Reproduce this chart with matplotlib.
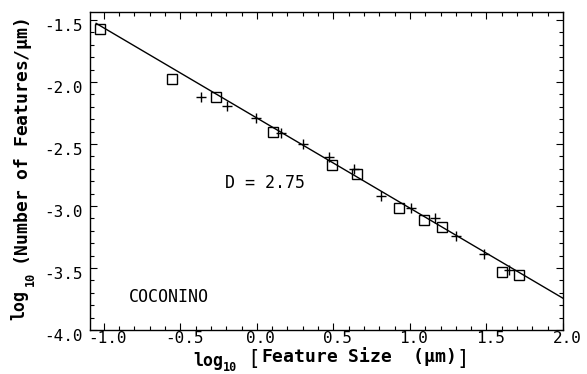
import numpy as np
import matplotlib.pyplot as plt
from matplotlib.ticker import MultipleLocator
from matplotlib.transforms import ScaledTranslation

# log10 feature size vs log10 number of features, two measurement sets
sq_x = [-1.026, -0.554, -0.270, 0.103, 0.494, 0.651, 0.928, 1.092, 1.211, 1.603, 1.714]
sq_y = [-1.573, -1.977, -2.118, -2.402, -2.673, -2.741, -3.012, -3.112, -3.167, -3.533, -3.559]

plus_x = [-0.368, -0.192, -0.007, 0.157, 0.299, 0.473, 0.634, 0.810, 1.004, 1.163, 1.301, 1.484, 1.649]
plus_y = [-2.120, -2.197, -2.286, -2.408, -2.503, -2.606, -2.700, -2.920, -3.012, -3.093, -3.240, -3.389, -3.519]

# fitted power law
fit_x = np.array([-1.05, 2.0])
fit_intercept = -2.290
fit_slope = -0.727

xticks = [-1.0, -0.5, 0.0, 0.5, 1.0, 1.5, 2.0]
yticks = [-4.0, -3.5, -3.0, -2.5, -2.0, -1.5]

plt.rcParams['font.family'] = 'DejaVu Sans Mono'
plt.rcParams['mathtext.fontset'] = 'custom'
plt.rcParams['mathtext.rm'] = 'DejaVu Sans Mono'
plt.rcParams['mathtext.it'] = 'DejaVu Sans Mono:bold'
plt.rcParams['mathtext.bf'] = 'DejaVu Sans Mono:bold'

W, H = 587, 374
fig = plt.figure(figsize=(W / 100, H / 100), dpi=100)
ax = fig.add_axes([90 / W, 1 - 330 / H, (563 - 90) / W, (330 - 12) / H])

ax.plot(fit_x, fit_intercept + fit_slope * fit_x, color='black', lw=1.0)
ax.plot(sq_x, sq_y, ls='none', marker='s', ms=6.5, mfc='none', mec='black', mew=1.0)
ax.plot(plus_x, plus_y, ls='none', marker='+', ms=7, mec='black', mew=1.0)

ax.text(0.05, -2.817, 'D = 2.75', ha='center', va='center', fontsize=12)
ax.text(-0.575, -3.736, 'COCONINO', ha='center', va='center', fontsize=12)

ax.set_xlim(-1.09, 2.0)
ax.set_ylim(-4.0, -1.435)
ax.xaxis.set_minor_locator(MultipleLocator(0.1))
ax.yaxis.set_minor_locator(MultipleLocator(0.1))
ax.set_xticks(xticks)
ax.set_xticklabels([f'{v:.1f}' for v in xticks])
ax.set_yticks(yticks)
ax.set_yticklabels([f'{v:.1f}' for v in yticks])
ax.tick_params(which='both', direction='in', top=True, right=True,
               labelsize=11.5, width=0.8)
ax.tick_params(which='major', length=5)
ax.tick_params(axis='x', which='major', pad=1)
ax.tick_params(axis='y', which='major', pad=5)
ax.tick_params(which='minor', length=3)
for s in ax.spines.values():
    s.set_linewidth(1.0)

# nudge tick labels right / down a little
dx = ScaledTranslation(4 / 100, 0, fig.dpi_scale_trans)
dy = ScaledTranslation(0, -5 / 100, fig.dpi_scale_trans)
for lab in ax.get_xticklabels():
    lab.set_transform(lab.get_transform() + dx)
for lab in ax.get_yticklabels():
    lab.set_transform(lab.get_transform() + dy)


def px(x, y):
    return x / W, 1 - y / H


# x axis label, built from pieces
fig.text(*px(193, 366), 'log', fontsize=12, fontweight='bold', va='baseline')
fig.text(*px(223, 371), '10', fontsize=8.5, fontweight='bold', va='baseline')
fig.text(*px(247, 365), '[', fontsize=15, va='baseline')
fig.text(*px(261, 362), r'Feature Size  ($\mu$m)', fontsize=13, fontweight='bold', va='baseline')
fig.text(*px(456, 365), ']', fontsize=15, va='baseline')

# y axis label
fig.text(*px(19, 305), 'log', fontsize=12, fontweight='bold', rotation=90,
         ha='center', va='center')
fig.text(*px(30, 279), '10', fontsize=8.5, fontweight='bold', rotation=90,
         ha='center', va='center')
fig.text(*px(23, 142), r'(Number of Features/$\mu$m)', fontsize=13, fontweight='bold',
         rotation=90, ha='center', va='center')

fig.savefig('out.png', dpi=100)
